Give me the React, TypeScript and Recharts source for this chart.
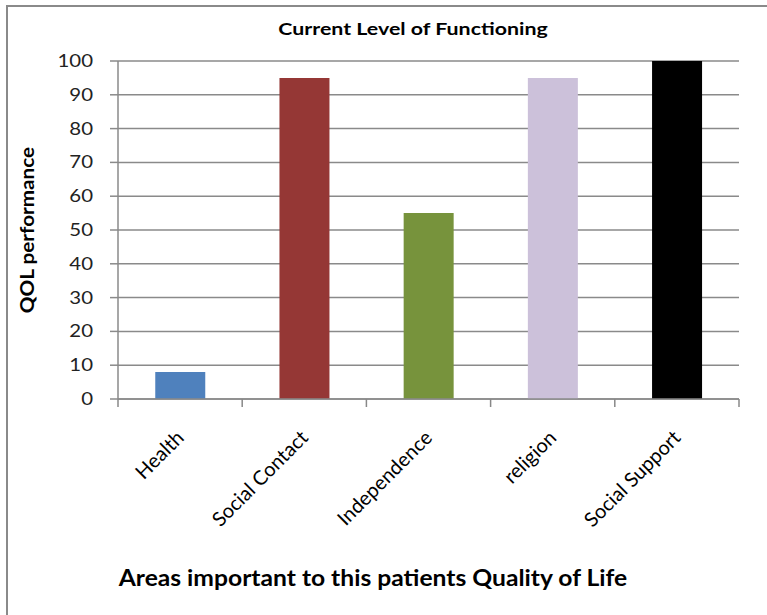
import React from 'react';
import { BarChart, Bar, XAxis, YAxis, CartesianGrid, Cell } from 'recharts';

const categories = ['Health', 'Social Contact', 'Independence', 'religion', 'Social Support'];
const values = [8, 95, 55, 95, 100];
const colors = ['#4F81BD', '#953735', '#77933C', '#CCC1DA', '#000000'];
const yTicks = [0, 10, 20, 30, 40, 50, 60, 70, 80, 90, 100];

const data = categories.map((name, i) => ({ name, value: values[i] }));

const FONT = 'Lato, "Open Sans", sans-serif';

const XTick = (props: any) => {
  const { x, y, payload, index, visibleTicksCount, width } = props;
  const band = width && visibleTicksCount ? width / visibleTicksCount : (payload.offset || 62) * 2;
  const left = x - band / 2;
  const right = x + band / 2;
  const ax = x + 5;
  const ay = y + 32;
  return (
    <g>
      <line x1={left} y1={y - 8} x2={left} y2={y} stroke="#888" strokeWidth={1.5} />
      {index === visibleTicksCount - 1 && (
        <line x1={right} y1={y - 8} x2={right} y2={y} stroke="#888" strokeWidth={1.5} />
      )}
      <text
        x={0}
        y={0}
        textAnchor="end"
        transform={`translate(${ax}, ${ay}) rotate(-45)`}
        fontSize={20}
        fontFamily={FONT}
        fill="#000"
      >
        {payload.value}
      </text>
    </g>
  );
};

const YTick = (props: any) => {
  const { x, y, payload } = props;
  return (
    <text
      x={0}
      y={0}
      dy={6}
      textAnchor="end"
      transform={`translate(${x}, ${y}) scale(1.2, 1)`}
      fontSize={17}
      fontFamily={FONT}
      fill="#222"
    >
      {payload.value}
    </text>
  );
};

export default function App() {
  return (
    <div style={{ position: 'absolute', left: 0, top: 0, width: 767, height: 615, overflow: 'hidden', background: '#fff' }}>
      <div
        style={{
          position: 'absolute',
          left: 6,
          top: 5,
          width: 900,
          height: 900,
          border: '2px solid #8a8a8a',
        }}
      />
      <div
        style={{
          position: 'absolute',
          left: 413,
          top: 28,
          transform: 'translate(-50%, -50%) scale(1.22, 1)',
          whiteSpace: 'nowrap',
          fontFamily: FONT,
          fontWeight: 'bold',
          fontSize: 17.5,
          color: '#000',
        }}
      >
        Current Level of Functioning
      </div>
      <div
        style={{
          position: 'absolute',
          left: 27,
          top: 230,
          transform: 'translate(-50%, -50%) rotate(-90deg) scale(1.15, 1)',
          whiteSpace: 'nowrap',
          fontFamily: FONT,
          fontWeight: 'bold',
          fontSize: 18,
          color: '#000',
        }}
      >
        QOL performance
      </div>
      <div
        style={{
          position: 'absolute',
          left: 373,
          top: 577,
          transform: 'translate(-50%, -50%) scale(1.12, 1)',
          whiteSpace: 'nowrap',
          fontFamily: FONT,
          fontWeight: 'bold',
          fontSize: 22,
          color: '#000',
        }}
      >
        Areas important to this patients Quality of Life
      </div>
      <div style={{ position: 'absolute', left: 0, top: 0 }}>
        <BarChart
          width={767}
          height={615}
          data={data}
          margin={{ top: 61, right: 28, bottom: 66, left: 58 }}
          barCategoryGap="30%"
        >
          <CartesianGrid vertical={false} stroke="#8a8a8a" strokeWidth={1.5} />
          <XAxis
            dataKey="name"
            height={150}
            axisLine={{ stroke: '#8a8a8a', strokeWidth: 1.5 }}
            tickLine={false}
            tick={<XTick />}
            interval={0}
          />
          <YAxis
            width={60}
            domain={[0, 100]}
            ticks={yTicks}
            interval={0}
            axisLine={{ stroke: '#8a8a8a', strokeWidth: 1.5 }}
            tickLine={{ stroke: '#8a8a8a', strokeWidth: 1.5 }}
            tickSize={8}
            tickMargin={17}
            tick={<YTick />}
          />
          <Bar dataKey="value" isAnimationActive={false}>
            {data.map((d, i) => (
              <Cell key={d.name} fill={colors[i]} />
            ))}
          </Bar>
        </BarChart>
      </div>
    </div>
  );
}
